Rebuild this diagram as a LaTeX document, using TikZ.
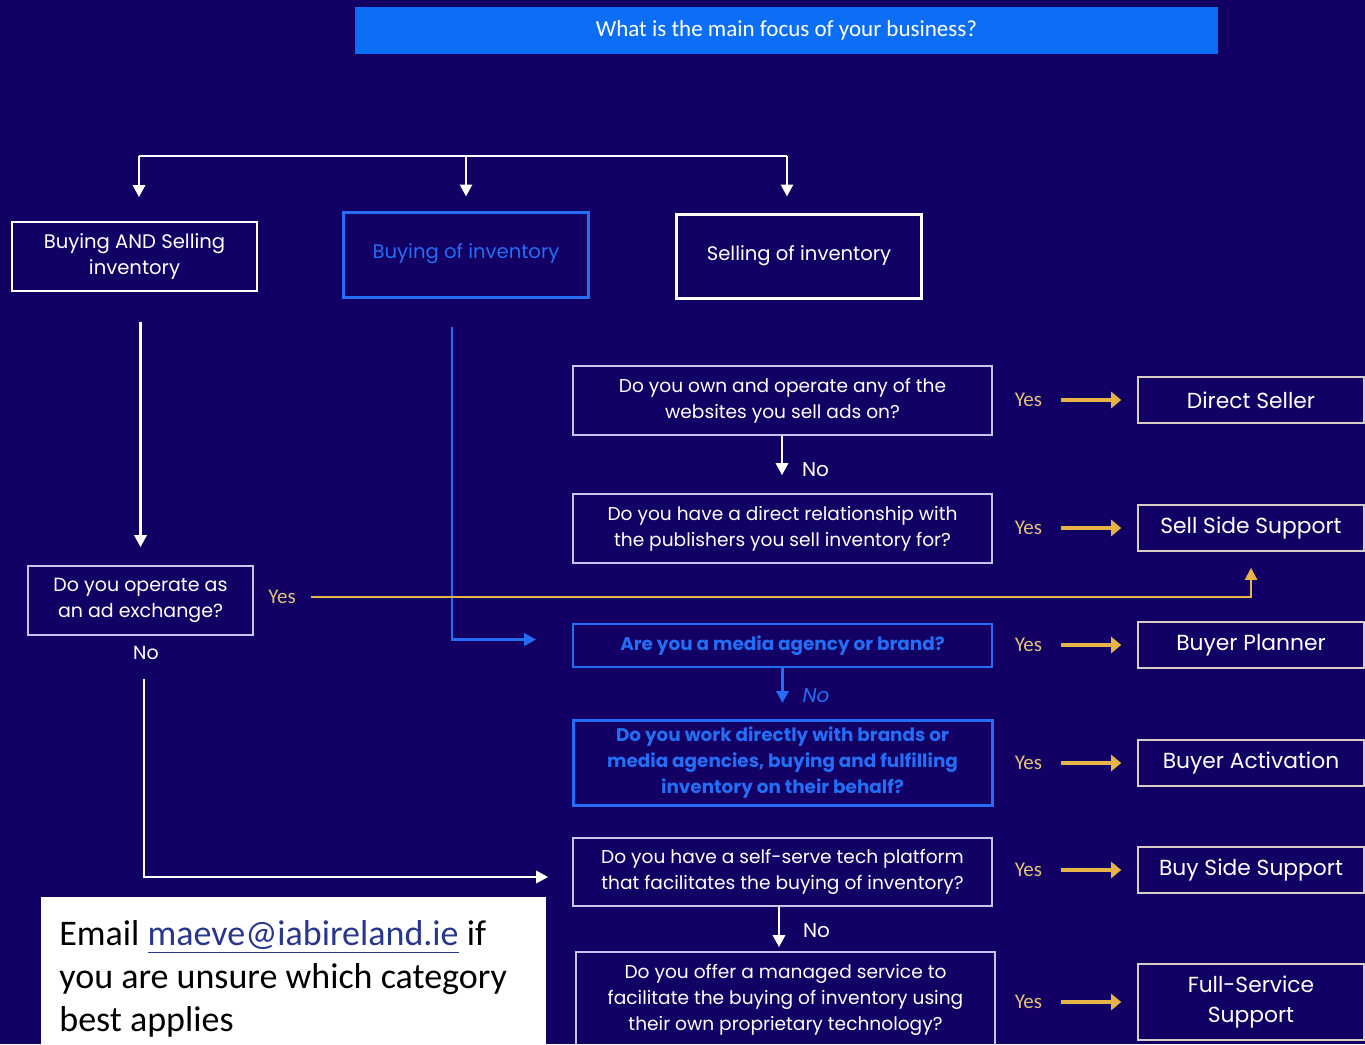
\documentclass[tikz,border=0pt]{standalone}
\usepackage{fontspec}
\setmainfont{Poppins}
\newfontfamily\calfont{Carlito}
\usetikzlibrary{positioning,arrows.meta,calc}
\definecolor{navy}{RGB}{19,0,100}
\definecolor{topblue}{RGB}{12,110,245}
\definecolor{ablue}{RGB}{35,110,245}
\definecolor{gold}{RGB}{232,180,72}
\definecolor{yestxt}{RGB}{225,195,120}
\definecolor{lav}{RGB}{200,195,240}
\definecolor{sand}{RGB}{215,205,195}
\definecolor{link}{RGB}{40,55,140}

\begin{document}
\begin{tikzpicture}[x=0.5pt, y=-0.5pt, >=Triangle, font=\fontsize{9.3}{13}\selectfont,
  qbox/.style={draw=lav, line width=0.8pt, text=white, align=center, minimum width=209.5pt},
  rbox/.style={draw=sand, line width=0.8pt, text=white, align=center, minimum width=113pt,
    minimum height=23pt, font=\fontsize{10.9}{15}\selectfont},
  cat/.style={draw=white, text=white, align=center, minimum width=122.5pt, font=\fontsize{9.8}{13}\selectfont},
  wline/.style={white, line width=1.4pt, arrows={-Triangle[length=6pt,width=6pt]}},
  bline/.style={ablue, line width=1.4pt, arrows={-Triangle[length=6pt,width=6pt]}},
  yline/.style={gold, line width=1.1pt, arrows={-Triangle[length=6pt,width=6pt]}},
  yarr/.style={gold, line width=2pt, arrows={-Triangle[length=5pt,width=8pt]}},
  yeslbl/.style={text=yestxt, font=\calfont\fontsize{10.5}{12}\selectfont},
  nolbl/.style={text=white, font=\fontsize{10}{12}\selectfont}]
  \useasboundingbox[fill=navy] (0,0) rectangle (1365,1044);

  % titel
  \node[fill=topblue, text=white, minimum width=431.5pt, minimum height=23.5pt,
    font=\calfont\fontsize{11.5}{12}\selectfont] (top) at (786.5,30.5) {What is the main focus of your business?};

  % categorieen
  \node[cat, line width=0.8pt, minimum height=34.5pt] (bas) at (134.5,256.5) {Buying AND Selling\\inventory};
  \node[cat, draw=ablue, text=ablue, line width=1.5pt, minimum height=42.5pt, text depth=3pt] (buy) at (466,254.5) {Buying of inventory};
  \node[cat, line width=1.5pt, minimum height=42pt, text depth=3pt] (sell) at (799,256) {Selling of inventory};

  \coordinate (barl) at (139,156);
  \coordinate (barr) at (787,156);
  \draw[white, line width=1.4pt] (barl) -- (barr);
  \draw[wline, shorten >=12pt] (barl) -- (barl |- bas.north);
  \draw[wline, shorten >=7pt] (buy.north |- barl) -- (buy.north);
  \draw[wline, shorten >=8pt] (barr) -- (barr |- sell.north);

  % vragen
  \node[qbox, minimum height=34.5pt] (q1) at (782.5,400.5) {Do you own and operate any of the\\websites you sell ads on?};
  \node[qbox, minimum height=34.5pt] (q2) at (782.5,528.5) {Do you have a direct relationship with\\the publishers you sell inventory for?};
  \node[qbox, draw=ablue, text=ablue, minimum height=21.5pt, font=\bfseries\fontsize{9.2}{13}\selectfont] (q3) at (782.5,645.5) {Are you a media agency or brand?};
  \node[qbox, draw=ablue, text=ablue, line width=1.5pt, minimum height=40pt, font=\bfseries\fontsize{9.2}{13}\selectfont] (q4) at (782.5,763) {Do you work directly with brands or\\media agencies, buying and fulfilling\\inventory on their behalf?};
  \node[qbox, minimum height=34pt] (q5) at (782.5,872) {Do you have a self-serve tech platform\\that facilitates the buying of inventory?};
  \node[qbox, minimum height=48pt] (q6) at (785.5,1000) {Do you offer a managed service to\\facilitate the buying of inventory using\\their own proprietary technology?};

  \node[qbox, minimum width=112.5pt, minimum height=34.5pt, font=\fontsize{9.5}{13}\selectfont] (adx) at (140.5,600.5) {Do you operate as\\an ad exchange?};

  % uitkomsten
  \node[rbox] (r1) at (1251,400) {Direct Seller};
  \node[rbox] (r2) at (1251,528) {Sell Side Support};
  \node[rbox] (r3) at (1251,645) {Buyer Planner};
  \node[rbox] (r4) at (1251,763) {Buyer Activation};
  \node[rbox] (r5) at (1251,870) {Buy Side Support};
  \node[rbox, minimum height=38pt] (r6) at (1251,1002) {Full-Service\\Support};

  \foreach \r in {r1,r2,r3,r4,r5,r6}{
    \node[yeslbl, left=44pt of \r] (y\r) {Yes};
    \draw[yarr, shorten <=6pt, shorten >=8pt] (y\r.east) -- (\r.west);
  }

  % nee-pijlen
  \draw[wline] (q1.south -| 782,0) -- ([yshift=9pt]q2.north -| 782,0) node[nolbl, pos=0.85, right=6pt] {No};
  \draw[bline] (q3.south) -- ([yshift=8pt]q4.north) node[nolbl, text=ablue, pos=0.8, right=6pt, font=\itshape\fontsize{10}{12}\selectfont] {No};
  \draw[wline] (q5.south -| 779,0) -- ([yshift=2pt]q6.north -| 779,0) node[nolbl, pos=0.6, right=8pt] {No};

  % links
  \draw[wline, shorten <=15pt, shorten >=9pt] (adx.north |- bas.south) -- (adx.north);
  \draw[bline, shorten <=14pt, shorten >=18pt] ([xshift=-7pt]buy.south) |- ([yshift=3pt]q3.west);
  \node[yeslbl] (adxyes) at (282,597) {Yes};
  \draw[yline, shorten <=4pt, shorten >=8pt] (adxyes.east) -| (r2.south);
  \node[nolbl, font=\fontsize{9.5}{12}\selectfont] (adxno) at (146,653) {No};
  \draw[wline, shorten <=6pt, shorten >=12pt] (adxno.south -| 144,0) |- ([yshift=-2.5pt]q5.west);

  % email
  \node[fill=white, anchor=north west, minimum width=252.5pt, minimum height=74pt, inner xsep=9pt, inner ysep=11.5pt,
    text width=234.5pt, align=flush left, text=black, font=\calfont\fontsize{18}{21.5}\selectfont] (mail) at (41,897)
    {Email \textcolor{link}{\underline{maeve@iabireland.ie}} if\\you are unsure which category\\best applies};
\end{tikzpicture}
\end{document}
